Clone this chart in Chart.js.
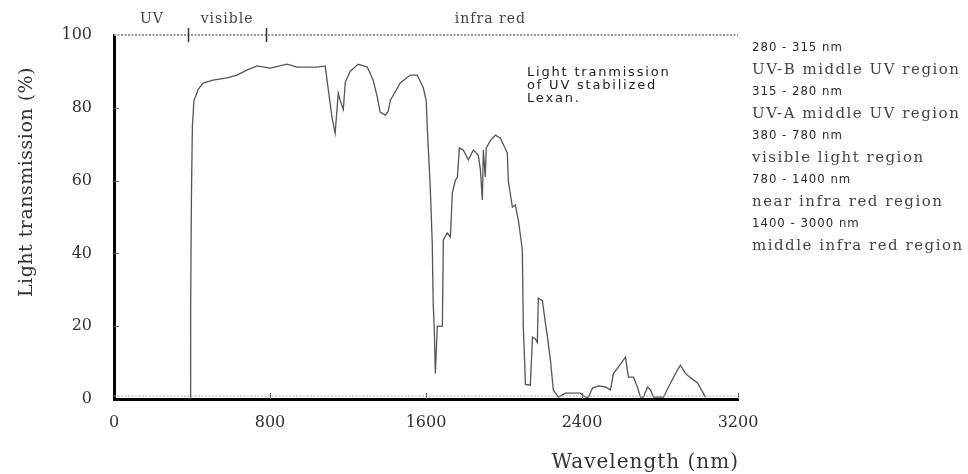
<!DOCTYPE html>
<html>
<head>
<meta charset="utf-8">
<script src="https://cdn.jsdelivr.net/npm/chart.js@4.4.1/dist/chart.umd.min.js"></script>
<style>
  html, body { margin: 0; padding: 0; background: #fff; }
  #wrap { width: 968px; height: 474px; position: relative; }
</style>
</head>
<body>
<div id="wrap"><canvas id="canvas" width="968" height="474"></canvas></div>
<script>
// wavelength (nm) and light transmission (%)
const wavelength = [
  390, 393, 397, 402, 410, 421, 431, 457, 508, 580, 631, 683, 734, 801, 888, 939,
  1042, 1083, 1099, 1119, 1134, 1150, 1160, 1176, 1186, 1211, 1252, 1299, 1329, 1350,
  1365, 1391, 1406, 1417, 1468, 1519, 1555, 1586, 1601, 1607, 1622, 1632, 1637, 1642,
  1648, 1658, 1684, 1689, 1709, 1725, 1735, 1750, 1761, 1771, 1791, 1817, 1843, 1868,
  1879, 1889, 1894, 1904, 1909, 1930, 1956, 1981, 2017, 2022, 2043, 2058, 2074, 2094,
  2099, 2110, 2135, 2146, 2161, 2171, 2176, 2197, 2212, 2223, 2238, 2253, 2279, 2315,
  2356, 2392, 2418, 2433, 2454, 2484, 2520, 2546, 2561, 2587, 2623, 2638, 2664, 2684,
  2700, 2715, 2736, 2751, 2767, 2818, 2854, 2890, 2905, 2931, 2957, 2993, 3033
];
const transmission = [
  0, 25, 55, 75, 82, 83.5, 85, 86.8, 87.6, 88.2, 89, 90.4, 91.5, 90.9, 92, 91.2,
  91.2, 91.5, 85, 77, 73, 84, 82, 79.5, 87, 90, 92, 91.2, 87.6, 83,
  78.8, 78, 79, 82, 86.8, 89, 89, 85.5, 82, 74, 58, 43, 26, 20,
  7, 20, 20, 43.7, 45.6, 44.5, 56.6, 60, 61, 69, 68.4, 65.7, 68.4, 67,
  63, 54.7, 68.4, 61, 69, 71, 72.5, 71.7, 67.6, 60, 52.7, 53.3, 49, 41,
  20, 4, 3.8, 17, 16.5, 15.5, 27.7, 27, 21, 17, 10.7, 2.5, 0.5, 1.6,
  1.6, 1.6, 0.5, 0.5, 3, 3.6, 3.3, 2.5, 7, 8.8, 11.5, 6, 6, 3.3,
  0.5, 0.5, 3.3, 2.5, 0.5, 0.5, 4.4, 8, 9.3, 7, 5.8, 4.4, 0.5
];

const xTicks = [0, 800, 1600, 2400, 3200];
const yTicks = [0, 20, 40, 60, 80, 100];

// spectral bands across the top
const bandBounds = [380, 780];
const bandNames = ["UV", "visible", "infra red"];
const bandLabelAt = [195, 580, 1930];

const noteLines = ["Light tranmission", "of UV stabilized", "Lexan."];
const rangeLines = ["280 - 315 nm", "315 - 280 nm", "380 - 780 nm", "780 - 1400 nm", "1400 - 3000 nm"];
const regionLines = ["UV-B middle UV region", "UV-A middle UV region", "visible light region",
  "near infra red region", "middle infra red region"];

const serif = "'DejaVu Serif', 'Liberation Serif', serif";
const narrow = "'DejaVu Sans Condensed', 'Liberation Sans Narrow', 'DejaVu Sans', sans-serif";

const extras = {
  id: "extras",
  afterDraw(chart) {
    const c = chart.ctx;
    const xs = chart.scales.x, ys = chart.scales.y;
    const a = chart.chartArea;
    c.save();

    // dotted top line
    c.strokeStyle = "#9a9a9a";
    c.lineWidth = 2;
    c.setLineDash([2, 1.5]);
    c.beginPath(); c.moveTo(a.left, a.top); c.lineTo(a.right, a.top); c.stroke();
    // dotted line just above bottom axis
    c.lineWidth = 1;
    c.strokeStyle = "#b0b0b0";
    c.beginPath(); c.moveTo(a.left, a.bottom - 3); c.lineTo(a.right, a.bottom - 3); c.stroke();
    c.setLineDash([]);

    // band boundaries
    c.strokeStyle = "#333";
    c.lineWidth = 1.5;
    bandBounds.forEach(v => {
      const px = Math.round(xs.getPixelForValue(v)) + 0.5;
      c.beginPath(); c.moveTo(px, a.top - 7); c.lineTo(px, a.top + 7); c.stroke();
    });
    c.fillStyle = "#444";
    c.font = "14px " + serif;
    c.letterSpacing = "1px";
    c.textAlign = "center";
    c.textBaseline = "middle";
    bandNames.forEach((n, i) => c.fillText(n, xs.getPixelForValue(bandLabelAt[i]), 19));

    // small inner ticks
    c.strokeStyle = "#666";
    c.lineWidth = 1;
    yTicks.slice(1, -1).forEach(v => {
      const py = Math.round(ys.getPixelForValue(v)) + 0.5;
      c.beginPath(); c.moveTo(a.left, py); c.lineTo(a.left + 5, py); c.stroke();
    });
    xTicks.slice(1).forEach(v => {
      const px = Math.round(xs.getPixelForValue(v)) + 0.5;
      c.beginPath(); c.moveTo(px, a.bottom); c.lineTo(px, a.bottom - 6); c.stroke();
    });

    // axis titles
    c.fillStyle = "#333";
    c.font = "20px " + serif;
    c.letterSpacing = "1px";
    c.textAlign = "right";
    c.fillText("Wavelength (nm)", a.right + 1, 463);
    c.save();
    c.translate(27, 182);
    c.rotate(-Math.PI / 2);
    c.textAlign = "center";
    c.font = "19px " + serif;
    c.letterSpacing = "0.5px";
    c.fillText("Light transmission (%)", 0, 0);
    c.restore();

    // note inside the plot
    c.fillStyle = "#222";
    c.font = "13px 'DejaVu Sans', sans-serif";
    c.letterSpacing = "1.8px";
    c.textAlign = "left";
    noteLines.forEach((t, i) => c.fillText(t, 527, 73 + i * 13));

    // region list on the right
    rangeLines.forEach((t, i) => {
      const y0 = 48 + i * 44;
      c.fillStyle = "#2a2a2a";
      c.font = "13px " + narrow;
      c.letterSpacing = "1px";
      c.fillText(t, 752, y0);
      c.fillStyle = "#444";
      c.font = "15px " + serif;
      c.letterSpacing = "1.5px";
      c.fillText(regionLines[i], 752, y0 + 22);
    });
    c.restore();
  }
};

const points = wavelength.map((w, i) => ({ x: w, y: transmission[i] }));

new Chart(document.getElementById("canvas").getContext("2d"), {
  type: "line",
  data: {
    datasets: [{
      data: points,
      borderColor: "#555",
      borderWidth: 1.3,
      pointRadius: 0,
      tension: 0,
      fill: false
    }]
  },
  options: {
    responsive: false,
    animation: false,
    layout: { padding: { left: 0, top: 35, right: 230, bottom: 0 } },
    plugins: { legend: { display: false }, tooltip: { enabled: false } },
    scales: {
      x: {
        type: "linear",
        min: 0,
        max: 3200,
        afterFit: (s) => { s.height = 75; },
        afterBuildTicks: (s) => { s.ticks = xTicks.map(v => ({ value: v })); },
        grid: { display: false },
        border: { display: true, color: "#000", width: 3 },
        ticks: { color: "#333", padding: 6, font: { family: serif, size: 16 }, callback: (v) => String(v) }
      },
      y: {
        min: 0,
        max: 100,
        afterFit: (s) => { s.width = 114; },
        afterBuildTicks: (s) => { s.ticks = yTicks.map(v => ({ value: v })); },
        grid: { display: false },
        border: { display: true, color: "#000", width: 3 },
        ticks: { color: "#333", padding: 14, font: { family: serif, size: 16 }, callback: (v) => String(v) }
      }
    }
  },
  plugins: [extras]
});
</script>
</body>
</html>
